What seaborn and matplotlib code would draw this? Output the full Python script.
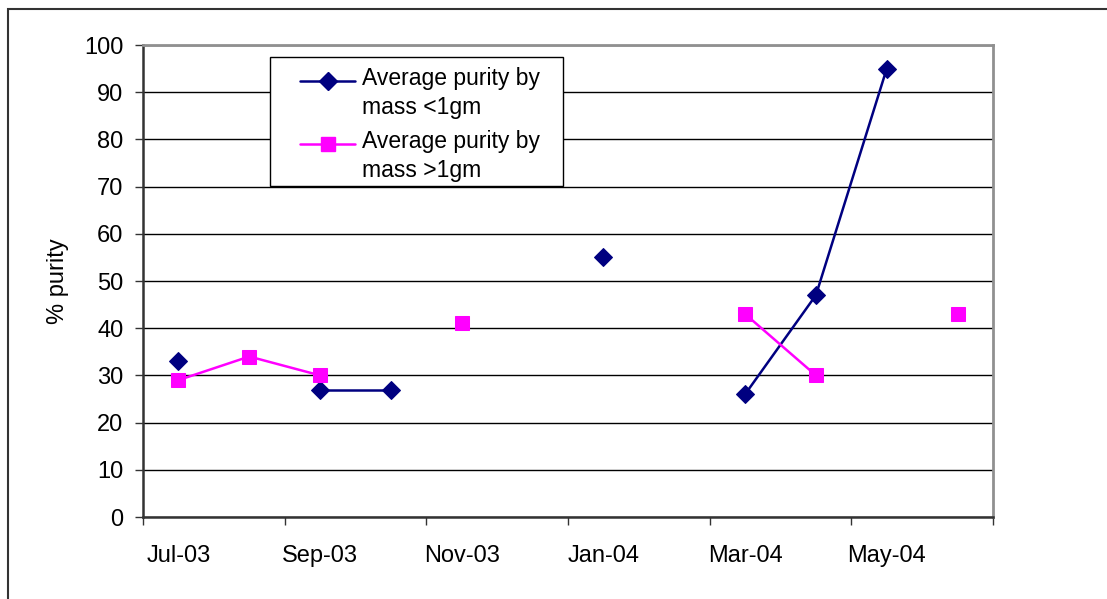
import numpy as np
import pandas as pd
import matplotlib
matplotlib.use("Agg")
import matplotlib.pyplot as plt
from matplotlib.patches import Rectangle
from matplotlib.ticker import FixedLocator
from matplotlib.lines import Line2D
from matplotlib.legend_handler import HandlerLine2D
import seaborn as sns

months = ["Jul-03", "Aug-03", "Sep-03", "Oct-03", "Nov-03", "Dec-03",
          "Jan-04", "Feb-04", "Mar-04", "Apr-04", "May-04", "Jun-04"]
below_1gm = [33, np.nan, 27, 27, np.nan, np.nan, 55, np.nan, 26, 47, 95, np.nan]
above_1gm = [29, 34, 30, np.nan, 41, np.nan, np.nan, np.nan, 43, 30, np.nan, 43]
label_below = "Average purity by\nmass <1gm"
label_above = "Average purity by\nmass >1gm"
y_ticks = list(range(0, 101, 10))

sns.set_theme(style="white")
plt.rcParams['font.family'] = ['Liberation Sans', 'DejaVu Sans']
for k in ["text.color", "axes.labelcolor", "xtick.color", "ytick.color"]:
    plt.rcParams[k] = "black"

def segments(vals):
    df = pd.DataFrame({"pos": np.arange(len(vals)), "val": vals})
    df["seg"] = df["val"].isna().cumsum()
    return df.dropna()

W, H = 1107, 599
fig = plt.figure(figsize=(W/100, H/100), dpi=100)
ax = fig.add_axes([143/W, 1-517/H, 850/W, 472/H])

fs = 17
lfs = 16.5
navy, magenta = "#000080", "#FF00FF"
ms_d, ms_s = 9.5, 10.5
lw = 1.8
d1 = segments(below_1gm)
d2 = segments(above_1gm)
sns.lineplot(data=d1, x="pos", y="val", units="seg", estimator=None, ax=ax,
             color=navy, marker="D", markersize=ms_d, markeredgecolor=navy,
             linewidth=lw, legend=False)
sns.lineplot(data=d2, x="pos", y="val", units="seg", estimator=None, ax=ax,
             color=magenta, marker="s", markersize=ms_s, markeredgecolor=magenta,
             linewidth=lw, legend=False)

ax.set_xlim(-0.5, len(months) - 0.5)
ax.set_ylim(0, 100)
ax.yaxis.set_major_locator(FixedLocator(y_ticks))
ax.set_yticklabels([str(v) for v in y_ticks], fontsize=fs)
ax.grid(axis="y", color="black", linewidth=1.0)
ax.set_axisbelow(True)

ax.xaxis.set_major_locator(FixedLocator(np.arange(-0.5, len(months), 2)))
ax.xaxis.set_minor_locator(FixedLocator(np.arange(0, len(months), 2)))
ax.set_xticklabels([])
ax.set_xticklabels(months[::2], minor=True, fontsize=fs)
ax.tick_params(axis="x", which="major", direction="out", length=6, width=1, color="#333333", bottom=True)
ax.tick_params(axis="x", which="minor", length=0, pad=20, bottom=True)
ax.tick_params(axis="y", direction="out", length=6, width=1, color="#333333", pad=8, left=True)
ax.set_xlabel("")
ax.set_ylabel("% purity", fontsize=fs, labelpad=11)

for s in ["top", "right"]:
    ax.spines[s].set_color("#909090")
    ax.spines[s].set_linewidth(2)
for s in ["left", "bottom"]:
    ax.spines[s].set_color("#333333")
    ax.spines[s].set_linewidth(1.8)

def ax_x(px):
    return (px - 143) / 850
def ax_y(py):
    return (517 - py) / 472

# legend box
ax.add_patch(Rectangle((ax_x(270), ax_y(186)), ax_x(563) - ax_x(270), ax_y(57) - ax_y(186),
                       transform=ax.transAxes, facecolor="white", edgecolor="black",
                       linewidth=1.0, zorder=4, clip_on=False))

class TopHandler(HandlerLine2D):
    def create_artists(self, legend, orig_handle, xdescent, ydescent, width, height, fontsize, trans):
        arts = super().create_artists(legend, orig_handle, xdescent, ydescent, width, height, fontsize, trans)
        for a in arts:
            y = np.asarray(a.get_ydata(), dtype=float)
            a.set_ydata(y + 0.58 * fontsize)
        return arts

h1 = Line2D([], [], color=navy, marker="D", markersize=ms_d, linewidth=lw)
h2 = Line2D([], [], color=magenta, marker="s", markersize=ms_s, linewidth=lw)
leg = ax.legend([h1, h2], [label_below, label_above], loc="upper left",
                bbox_to_anchor=(ax_x(300), ax_y(67)), fontsize=lfs,
                frameon=False, borderpad=0, borderaxespad=0,
                handlelength=2.4, labelspacing=0.5, handletextpad=0.3,
                handler_map={Line2D: TopHandler()})
for t in leg.get_texts():
    t.set_linespacing(1.32)
leg.set_zorder(5)

fig.patches.append(Rectangle((8/W, -0.05), 1.1, 1-9/H+0.05, transform=fig.transFigure,
                             fill=False, edgecolor="#333333", linewidth=1.5))

fig.savefig("out.png", dpi=100)
